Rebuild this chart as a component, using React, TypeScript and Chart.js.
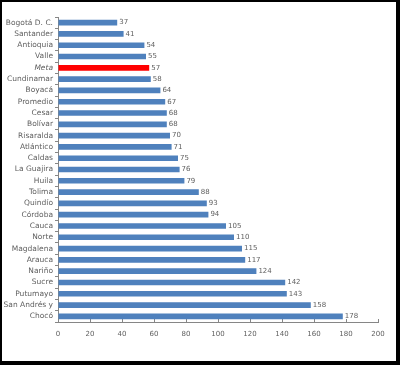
import React, { useEffect, useRef } from "react";
import { Chart, registerables } from "chart.js";

Chart.register(...registerables);

const categories: string[] = [
  "Bogotá D. C.", "Santander", "Antioquia", "Valle", "Meta", "Cundinamar", "Boyacá",
  "Promedio", "Cesar", "Bolívar", "Risaralda", "Atlántico", "Caldas", "La Guajira",
  "Huila", "Tolima", "Quindío", "Córdoba", "Cauca", "Norte", "Magdalena", "Arauca",
  "Nariño", "Sucre", "Putumayo", "San Andrés y", "Chocó",
];
const values: number[] = [
  37, 41, 54, 55, 57, 58, 64, 67, 68, 68, 70, 71, 75, 76, 79, 88, 93, 94, 105, 110,
  115, 117, 124, 142, 143, 158, 178,
];
const highlighted = "Meta";
const xMin = 0;
const xMax = 200;
const xStep = 20;

const BLUE = "#4F81BD";
const RED = "#FF0000";
const TEXT = "#606060";
const AXIS = "#868686";
const FONT = "'DejaVu Sans', sans-serif";

export default function App() {
  const ref = useRef<HTMLCanvasElement | null>(null);

  useEffect(() => {
    document.body.style.margin = "0";
    const canvas = ref.current;
    if (!canvas) return;

    const labelPlugin = {
      id: "valueLabels",
      afterDatasetsDraw(chart: any) {
        const ctx = chart.ctx;
        const meta = chart.getDatasetMeta(0);
        ctx.save();
        ctx.font = `7px ${FONT}`;
        ctx.fillStyle = TEXT;
        ctx.textAlign = "left";
        ctx.textBaseline = "middle";
        meta.data.forEach((bar: any, i: number) => {
          ctx.fillText(String(values[i]), bar.x + 2, bar.y);
        });
        ctx.restore();
      },
    };

    const chart = new Chart(canvas, {
      type: "bar",
      data: {
        labels: categories,
        datasets: [
          {
            data: values,
            backgroundColor: categories.map((c) => (c === highlighted ? RED : BLUE)),
            borderWidth: 0,
            barPercentage: 0.5,
            categoryPercentage: 1,
          },
        ],
      },
      options: {
        indexAxis: "y",
        animation: false,
        responsive: false,
        maintainAspectRatio: false,
        layout: { padding: { left: 0, right: 18, top: 15, bottom: 19 } },
        plugins: {
          legend: { display: false },
          tooltip: { enabled: false },
        },
        scales: {
          x: {
            min: xMin,
            max: xMax,
            ticks: {
              stepSize: xStep,
              color: TEXT,
              font: { family: FONT, size: 7 },
              padding: 11,
              maxRotation: 0,
            },
            grid: {
              drawOnChartArea: false,
              color: AXIS,
              tickLength: -3,
            },
            border: { color: AXIS },
            afterFit: (s: any) => {
              s.height = 20;
            },
          },
          y: {
            ticks: {
              color: TEXT,
              font: (c: any) => ({
                family: FONT,
                size: 7.5,
                style: categories[c.index] === highlighted ? "italic" : "normal",
              }),
              padding: 2,
              autoSkip: false,
            },
            grid: {
              drawOnChartArea: false,
              color: AXIS,
              tickLength: 3,
            },
            border: { color: AXIS },
            afterFit: (s: any) => {
              s.width = 56;
            },
          },
        },
      },
      plugins: [labelPlugin],
    });

    return () => chart.destroy();
  }, []);

  return (
    <div
      style={{
        position: "absolute",
        left: 0,
        top: 0,
        width: 400,
        height: 365,
        boxSizing: "border-box",
        borderTop: "2px solid #000",
        borderLeft: "2px solid #000",
        borderRight: "4px solid #000",
        borderBottom: "4px solid #000",
        background: "#fff",
      }}
    >
      <canvas ref={ref} width={394} height={359} style={{ display: "block" }} />
    </div>
  );
}
